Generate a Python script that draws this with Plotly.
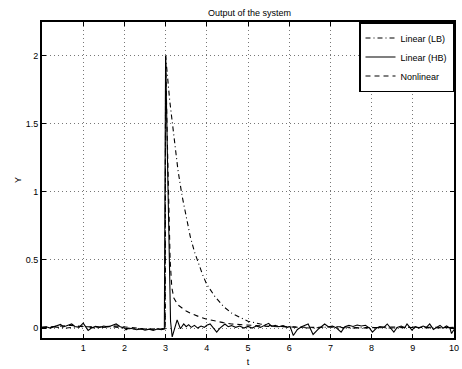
import plotly.graph_objects as go

# ---------------- data ----------------
title_text = "Output of the system"
x_label = "t"
y_label = "Y"
series_names = ["Linear (LB)", "Linear (HB)", "Nonlinear"]
x_ticks = [1, 2, 3, 4, 5, 6, 7, 8, 9, 10]
y_ticks = [0, 0.5, 1, 1.5, 2]
y_tick_labels = ["0", "0.5", "1", "1.5", "2"]

# Linear (LB): dash-dot, slow exponential-like decay after the pulse
lb_t = [0.0, 0.3, 0.6, 1.0, 1.3, 1.7, 2.1, 2.5, 2.99,
        3.0, 3.1, 3.2, 3.3, 3.4, 3.5, 3.6, 3.7, 3.8, 3.9, 4.0,
        4.2, 4.4, 4.6, 4.8, 5.0, 5.3, 5.6, 6.0,
        6.5, 7.0, 7.5, 8.0, 8.5, 9.0, 9.5, 10.0]
lb_y = [0.0, 0.008, 0.0, 0.015, 0.0, 0.01, -0.005, -0.008, -0.005,
        2.0, 1.67, 1.39, 1.16, 0.97, 0.81, 0.67, 0.56, 0.47, 0.39, 0.32,
        0.23, 0.16, 0.11, 0.08, 0.05, 0.03, 0.015, 0.01,
        0.0, 0.008, 0.0, 0.005, 0.0, 0.008, 0.0, 0.005]

# Linear (HB): solid, fast pulse with ringing and noise
hb_t = [0.0, 0.1, 0.2, 0.3, 0.4, 0.45, 0.52, 0.6, 0.72, 0.8, 0.9, 1.0, 1.06, 1.12,
        1.2, 1.3, 1.4, 1.5, 1.6, 1.7, 1.8, 1.9, 2.0, 2.04, 2.1, 2.2, 2.3, 2.4,
        2.5, 2.6, 2.7, 2.8, 2.9, 2.97,
        3.0, 3.06, 3.095, 3.12, 3.16, 3.22, 3.28, 3.36, 3.44, 3.5, 3.56, 3.62,
        3.7, 3.78, 3.86, 3.94, 4.0, 4.08, 4.16, 4.24, 4.32, 4.44, 4.52, 4.6,
        4.7, 4.8, 4.9, 5.0, 5.1, 5.2, 5.3, 5.4, 5.5, 5.58, 5.66, 5.75, 5.85,
        5.95, 6.02, 6.1, 6.2, 6.3, 6.46, 6.58, 6.7, 6.86, 6.95, 7.05, 7.15,
        7.26, 7.35, 7.45, 7.55, 7.65, 7.75, 7.85, 7.95, 8.02, 8.12, 8.2, 8.3,
        8.38, 8.46, 8.54, 8.62, 8.72, 8.8, 8.86, 8.98, 9.06, 9.15, 9.25, 9.33,
        9.41, 9.5, 9.58, 9.66, 9.74, 9.82, 9.9, 9.94, 10.0]
hb_y = [0.005, 0.01, 0.0, 0.012, 0.02, 0.027, 0.008, 0.015, 0.03, 0.012, 0.005, 0.036, 0.01, -0.017,
        0.0, 0.012, 0.005, 0.015, 0.008, 0.018, 0.03, 0.01, 0.0, -0.012, 0.0, -0.005, -0.012, -0.005,
        -0.015, -0.008, -0.018, -0.006, -0.012, -0.005,
        2.0, 1.0, 0.5, 0.05, -0.065, 0.0, 0.06, -0.005, 0.03, 0.01, 0.025, 0.005,
        0.02, 0.0, 0.015, 0.005, 0.02, 0.03, 0.0, -0.03, 0.0, 0.03, 0.01, 0.018,
        0.005, 0.015, 0.0, 0.012, 0.0, 0.015, 0.005, 0.02, 0.035, 0.012, 0.02, 0.01, 0.018,
        0.005, 0.012, -0.055, -0.01, 0.01, 0.03, -0.047, -0.01, 0.03, 0.01, 0.015, 0.0,
        -0.03, 0.01, 0.02, 0.012, 0.022, 0.015, 0.02, 0.0, -0.03, 0.0, 0.01, 0.005,
        0.03, 0.0, -0.03, 0.005, 0.015, 0.0, 0.03, -0.015, 0.01, 0.0, 0.015, 0.005,
        0.03, -0.01, 0.005, 0.02, 0.0, 0.015, 0.0, -0.04, -0.01]

# Nonlinear: dashed, fast drop then slow tail
nl_t = [0.0, 0.35, 0.7, 1.0, 1.4, 1.8, 2.2, 2.6, 2.99,
        3.0, 3.04, 3.07, 3.11, 3.15, 3.2, 3.3, 3.4, 3.5, 3.6, 3.7, 3.8,
        4.0, 4.2, 4.4, 4.6, 4.8, 5.0, 5.5, 6.0,
        6.6, 7.2, 7.8, 8.4, 9.0, 9.6, 10.0]
nl_y = [0.005, 0.012, 0.02, 0.01, 0.008, 0.015, 0.0, -0.01, -0.006,
        2.0, 1.4, 1.0, 0.5, 0.3, 0.22, 0.17, 0.145, 0.125, 0.11, 0.095, 0.085,
        0.065, 0.05, 0.04, 0.03, 0.025, 0.02, 0.012, 0.008,
        0.005, 0.01, 0.0, 0.008, 0.004, 0.006, 0.002]

# ---------------- figure ----------------
font_family = "Liberation Sans, Arial, Helvetica, sans-serif"
fig = go.Figure()
fig.add_trace(go.Scatter(x=lb_t, y=lb_y, mode="lines", name=series_names[0],
                         line=dict(color="black", width=1.1, dash="5px,3px,1px,3px")))
fig.add_trace(go.Scatter(x=hb_t, y=hb_y, mode="lines", name=series_names[1],
                         line=dict(color="black", width=1.1)))
fig.add_trace(go.Scatter(x=nl_t, y=nl_y, mode="lines", name=series_names[2],
                         line=dict(color="black", width=1.1, dash="5px,4px")))

axis_common = dict(showline=True, linecolor="black", linewidth=2, mirror="ticks",
                   ticks="inside", ticklen=4, tickcolor="black", tickwidth=1,
                   showgrid=True, gridcolor="#777777", gridwidth=1, griddash="1px,3px",
                   zeroline=False, ticklabeloverflow="allow",
                   tickfont=dict(size=9, color="black", family=font_family))

fig.update_xaxes(range=[0, 10], tickvals=x_ticks, ticktext=[str(v) for v in x_ticks],
                 title=dict(text=x_label, font=dict(size=9, color="black"), standoff=7),
                 **axis_common)
fig.update_yaxes(range=[-0.073, 2.247], tickvals=y_ticks, ticktext=y_tick_labels,
                 title=dict(text=y_label, font=dict(size=9, color="black"), standoff=3),
                 **axis_common)

fig.update_layout(
    width=462, height=369,
    margin=dict(l=42, r=3, t=22, b=28),
    paper_bgcolor="white", plot_bgcolor="white",
    font=dict(family=font_family, size=9, color="black"),
    title=dict(text=title_text, x=0.54, xanchor="center", y=0.975, yanchor="top",
               font=dict(size=9, color="black")),
    legend=dict(x=1, y=1, xanchor="right", yanchor="top",
                bgcolor="white", bordercolor="black", borderwidth=1.5,
                font=dict(size=9, color="black"), tracegroupgap=0),
    showlegend=True,
)

fig.write_html("out.html", config={"displayModeBar": False},
               post_script="document.body.style.margin='0';document.body.style.overflow='hidden';")
